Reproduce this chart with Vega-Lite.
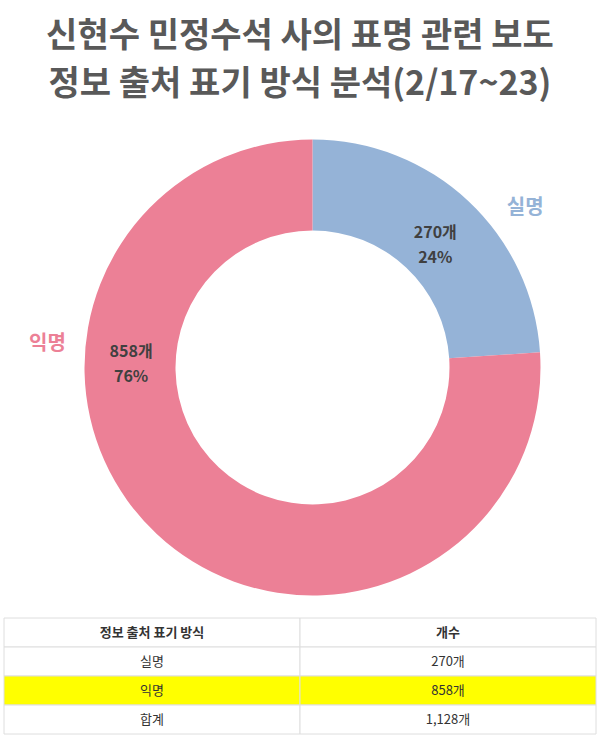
{
  "$schema": "https://vega.github.io/schema/vega-lite/v6.json",
  "padding": {"left": 3, "right": 5, "top": 20, "bottom": 2},
  "background": "white",
  "config": {"view": {"stroke": null}, "font": "Noto Sans CJK KR"},
  "title": {
    "text": ["신현수 민정수석 사의 표명 관련 보도", "정보 출처 표기 방식 분석(2/17~23)"],
    "fontSize": 34,
    "fontWeight": "bold",
    "color": "#595959",
    "font": "Noto Sans CJK KR",
    "lineHeight": 48,
    "anchor": "middle",
    "offset": 16
  },
  "spacing": 0,
  "vconcat": [
    {
      "spacing": 0,
      "hconcat": [
        {
          "width": 25,
          "height": 499,
          "data": {"values": [{"빈칸": ""}]},
          "mark": {"type": "text"},
          "encoding": {"text": {"field": "빈칸"}}
        },
        {
          "width": 567,
          "height": 499,
          "data": {"values": [
            {"방식": "실명", "개수": 270},
            {"방식": "익명", "개수": 858}
          ]},
          "transform": [
            {"joinaggregate": [{"op": "sum", "field": "개수", "as": "total"}]},
            {"calculate": "[format(datum['개수'], ',') + '개', format(datum['개수'] / datum.total, '.0%')]", "as": "label"}
          ],
          "layer": [
            {
              "mark": {"type": "arc", "outerRadius": 228, "innerRadius": 137},
              "encoding": {
                "theta": {"field": "개수", "type": "quantitative", "stack": true},
                "color": {"field": "방식", "type": "nominal", "scale": {"domain": ["실명", "익명"], "range": ["#95B3D7", "#EC8096"]}, "legend": null}
              }
            },
            {
              "mark": {"type": "text", "radius": 182, "fontSize": 16, "fontWeight": "bold", "color": "#404040", "lineHeight": 25, "baseline": "middle", "align": "center"},
              "encoding": {
                "theta": {"field": "개수", "type": "quantitative", "stack": true, "scale": {"domain": [32, 906]}},
                "text": {"field": "label"}
              }
            },
            {
              "mark": {"type": "text", "radius": 266, "fontSize": 20, "fontWeight": "bold", "baseline": "middle", "align": "center"},
              "encoding": {
                "theta": {"field": "개수", "type": "quantitative", "stack": true, "scale": {"domain": [0, 915]}},
                "text": {"field": "방식"},
                "color": {"field": "방식", "type": "nominal", "legend": null}
              }
            }
          ],
          "resolve": {"scale": {"theta": "independent"}}
        }
      ]
    },
    {
      "width": 592,
      "height": 116,
      "data": {"values": [
        {"행": 1, "열": "구분", "내용": "정보 출처 표기 방식"},
        {"행": 1, "열": "개수", "내용": "개수"},
        {"행": 2, "열": "구분", "내용": "실명"},
        {"행": 2, "열": "개수", "내용": "270개"},
        {"행": 3, "열": "구분", "내용": "익명"},
        {"행": 3, "열": "개수", "내용": "858개"},
        {"행": 4, "열": "구분", "내용": "합계"},
        {"행": 4, "열": "개수", "내용": "1,128개"}
      ]},
      "encoding": {
        "x": {"field": "열", "type": "nominal", "sort": ["구분", "개수"], "scale": {"paddingInner": 0, "paddingOuter": 0}, "axis": null},
        "y": {"field": "행", "type": "ordinal", "scale": {"paddingInner": 0, "paddingOuter": 0}, "axis": null}
      },
      "layer": [
        {
          "mark": {"type": "rect", "stroke": "#dedede", "strokeWidth": 1},
          "encoding": {
            "fill": {"condition": {"test": "datum['행'] === 3", "value": "#FFFF00"}, "value": "#FFFFFF"}
          }
        },
        {
          "transform": [{"filter": "datum['행'] === 1"}],
          "mark": {"type": "text", "fontSize": 13, "fontWeight": "bold", "color": "#333333", "baseline": "middle", "align": "center"},
          "encoding": {"text": {"field": "내용"}}
        },
        {
          "transform": [{"filter": "datum['행'] !== 1"}],
          "mark": {"type": "text", "fontSize": 13, "color": "#333333", "baseline": "middle", "align": "center"},
          "encoding": {"text": {"field": "내용"}}
        }
      ]
    }
  ]
}
